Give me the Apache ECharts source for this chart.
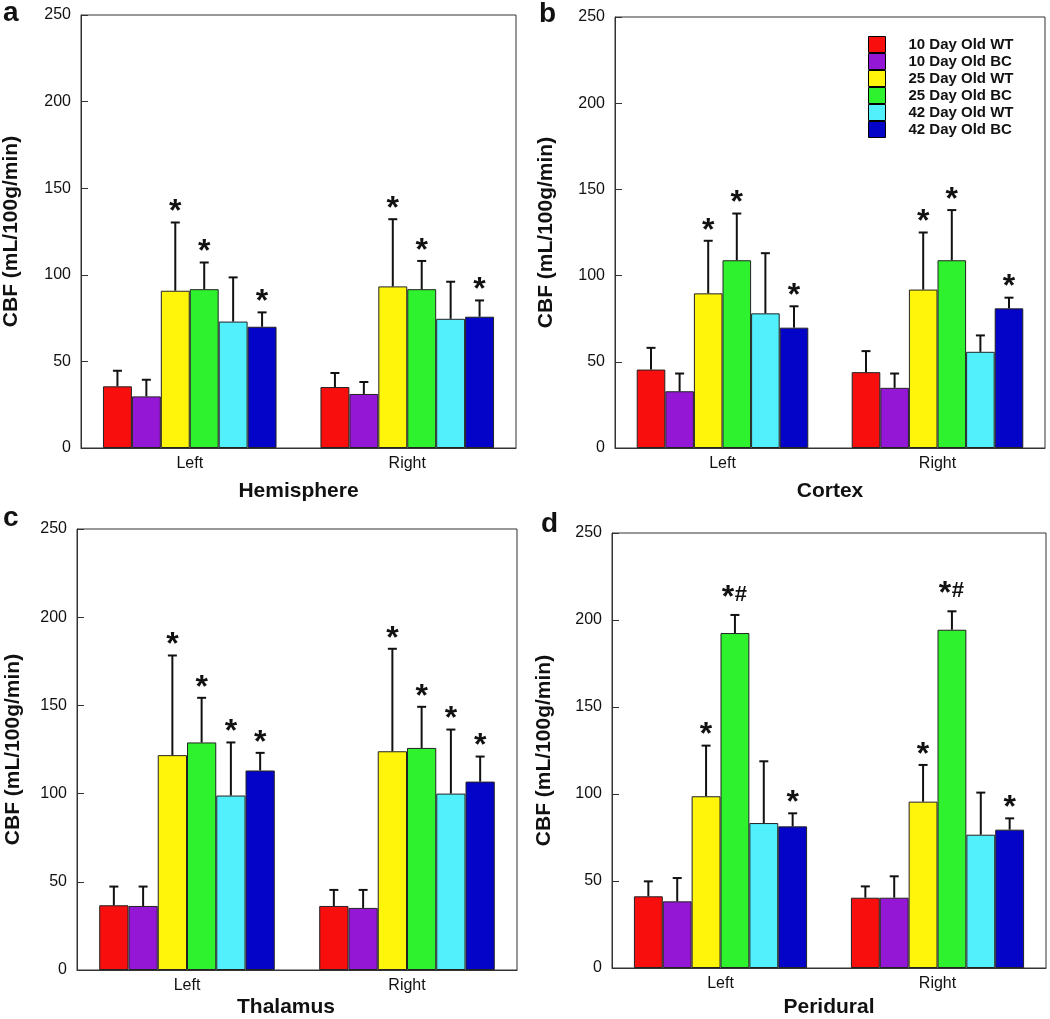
<!DOCTYPE html>
<html><head><meta charset="utf-8">
<script src="https://cdn.jsdelivr.net/npm/echarts@6/dist/echarts.min.js"></script>
<style>html,body{margin:0;padding:0;background:#fff}#c{width:1050px;height:1019px}</style>
</head><body><div id="c"></div>
<script>
// ---------- data ----------
const categories = ['Left', 'Right'];
const groupNames = ['10 Day Old WT', '10 Day Old BC', '25 Day Old WT', '25 Day Old BC', '42 Day Old WT', '42 Day Old BC'];
const panelTitles = ['Hemisphere', 'Cortex', 'Thalamus', 'Peridural'];
const panelLetters = ['a', 'b', 'c', 'd'];
const yAxisName = 'CBF (mL/100g/min)';
const yMin = 0, yMax = 250, yStep = 50;

// each row = one group, values for [Left, Right]
const hemisphereMean = [[35.6, 35.2], [29.8, 31.2], [90.8, 93.3], [91.7, 91.7], [73.0, 74.6], [70.0, 75.8]];
const hemisphereSD   = [[9.0, 8.1], [9.6, 6.9], [39.4, 38.8], [15.4, 16.3], [25.5, 21.4], [8.3, 9.4]];
const hemisphereSig  = [['', ''], ['', ''], ['*', '*'], ['*', '*'], ['', ''], ['*', '*']];

const cortexMean = [[45.5, 44.0], [32.9, 34.9], [89.7, 91.9], [108.9, 108.9], [78.1, 55.8], [69.8, 81.0]];
const cortexSD   = [[12.6, 12.2], [10.3, 8.3], [30.5, 33.1], [27.1, 29.1], [34.9, 9.5], [12.4, 6.2]];
const cortexSig  = [['', ''], ['', ''], ['*', '*'], ['*', '*'], ['', ''], ['*', '*']];

const thalamusMean = [[36.7, 36.3], [36.3, 35.2], [121.8, 124.0], [129.0, 125.9], [98.9, 100.0], [113.1, 106.8]];
const thalamusSD   = [[10.6, 9.1], [11.0, 10.2], [56.5, 58.1], [25.3, 23.3], [30.1, 36.3], [10.0, 14.2]];
const thalamusSig  = [['', ''], ['', ''], ['*', '*'], ['*', '*'], ['*', '*'], ['*', '*']];

const periduralMean = [[41.2, 40.4], [38.3, 40.4], [98.7, 95.6], [192.5, 194.4], [83.3, 76.6], [81.4, 79.5]];
const periduralSD   = [[8.6, 6.5], [13.4, 12.3], [29.1, 21.1], [10.4, 10.6], [35.5, 24.2], [7.5, 6.5]];
const periduralSig  = [['', ''], ['', ''], ['*', '*'], ['*#', '*#'], ['', ''], ['*', '*']];

const panelMeans = [hemisphereMean, cortexMean, thalamusMean, periduralMean];
const panelSDs = [hemisphereSD, cortexSD, thalamusSD, periduralSD];
const panelSigs = [hemisphereSig, cortexSig, thalamusSig, periduralSig];

// ---------- styles / layout ----------
const colors = ['#f90e0e', '#9417d6', '#fff50a', '#2ef22e', '#52effc', '#0404c8'];
const layout = [
  { left: 81, top: 15, width: 435, height: 433, yGap: 59, xGap: 33, xPad: [0, 0, 0, 0], letter: [3, 29] },
  { left: 615, top: 17, width: 430, height: 431, yGap: 58, xGap: 33, xPad: [0, 0, 0, 0], letter: [539, 30] },
  { left: 77, top: 529, width: 440, height: 441, yGap: 53, xGap: 27, xPad: [0, 22, 0, 0], letter: [3, 534] },
  { left: 612, top: 533, width: 434, height: 435, yGap: 57, xGap: 29, xPad: [0, 0, 0, 0], letter: [541, 540] }
];
const BAR_FRAC = 0.133;
const FONT = '"Liberation Sans", Arial, sans-serif';
const STAR_FONT = 'bold 32px "Liberation Sans", Arial, sans-serif';
const HASH_FONT = 'bold 22px "Liberation Sans", Arial, sans-serif';

const chart = echarts.init(document.getElementById('c'), null, { renderer: 'canvas' });

const grids = [], xAxes = [], yAxes = [], series = [], graphics = [];
layout.forEach((L, p) => {
  grids.push({ left: L.left, top: L.top, width: L.width, height: L.height, show: true,
    borderColor: '#333', borderWidth: 1, backgroundColor: 'transparent', containLabel: false });
  xAxes.push({
    type: 'category', gridIndex: p, data: categories,
    axisLine: { lineStyle: { color: '#333', width: 1 } },
    axisTick: { show: false },
    axisLabel: { fontSize: 16, color: '#111', margin: 8, fontFamily: FONT },
    name: panelTitles[p], nameLocation: 'middle', nameGap: L.xGap,
    nameTextStyle: { fontSize: 21, fontWeight: 'bold', color: '#111', fontFamily: FONT, padding: L.xPad }
  });
  yAxes.push({
    type: 'value', gridIndex: p, min: yMin, max: yMax, interval: yStep,
    axisLine: { show: true, lineStyle: { color: '#333', width: 1 } },
    axisTick: { show: true, inside: true, length: 7, lineStyle: { color: '#333' } },
    splitLine: { show: false },
    axisLabel: { fontSize: 16, color: '#111', margin: 10, fontFamily: FONT },
    name: yAxisName, nameLocation: 'middle', nameGap: L.yGap,
    nameTextStyle: { fontSize: 21, fontWeight: 'bold', color: '#111', fontFamily: FONT }
  });
  const means = panelMeans[p];
  groupNames.forEach((name, g) => {
    series.push({
      type: 'bar', name: name, xAxisIndex: p, yAxisIndex: p,
      data: means[g], barWidth: (BAR_FRAC * 100) + '%', barGap: '0%',
      itemStyle: { color: colors[g], borderColor: '#222', borderWidth: 1 },
      emphasis: { disabled: true }, z: 2
    });
  });
  const sds = panelSDs[p], sigs = panelSigs[p];
  const errData = [];
  const errSig = [];
  for (let g = 0; g < groupNames.length; g++) {
    for (let c = 0; c < categories.length; c++) {
      errData.push([c, g, means[g][c], sds[g][c]]);
      errSig.push(sigs[g][c]);
    }
  }
  series.push({
    type: 'custom', xAxisIndex: p, yAxisIndex: p, z: 5, silent: true,
    encode: { x: 0, y: 2 },
    data: errData,
    renderItem: function (params, api) {
      const c = api.value(0), g = api.value(1), m = api.value(2), sd = api.value(3);
      const bandW = api.size([1, 0])[0];
      const bw = bandW * BAR_FRAC;
      const x = api.coord([c, 0])[0] + (g - 2.5) * bw;
      const yM = api.coord([c, m])[1];
      const yT = api.coord([c, m + sd])[1];
      const children = [
        { type: 'line', shape: { x1: x, y1: yM, x2: x, y2: yT }, style: { stroke: '#111', lineWidth: 2 } },
        { type: 'line', shape: { x1: x - 4.5, y1: yT, x2: x + 4.5, y2: yT }, style: { stroke: '#111', lineWidth: 2 } }
      ];
      const sig = errSig[params.dataIndex];
      if (sig === '*') {
        children.push({ type: 'text', style: { text: '*', x: x, y: yT - 10, align: 'center', verticalAlign: 'middle', font: STAR_FONT, fill: '#111' } });
      } else if (sig === '*#') {
        children.push({ type: 'text', style: { text: '*', x: x - 7, y: yT - 17, align: 'center', verticalAlign: 'middle', font: STAR_FONT, fill: '#111' } });
        children.push({ type: 'text', style: { text: '#', x: x + 6, y: yT - 20, align: 'center', verticalAlign: 'middle', font: HASH_FONT, fill: '#111' } });
      }
      return { type: 'group', children: children };
    }
  });
  graphics.push({
    type: 'text', left: L.letter[0], top: L.letter[1] - 30,
    style: { text: panelLetters[p], font: 'bold 28px ' + FONT, fill: '#111' }
  });
});

chart.setOption({
  animation: false,
  backgroundColor: '#fff',
  textStyle: { fontFamily: FONT },
  grid: grids, xAxis: xAxes, yAxis: yAxes, series: series,
  legend: {
    data: groupNames, orient: 'vertical', left: 868, top: 36, padding: 0,
    itemWidth: 17, itemHeight: 16, itemGap: 0, icon: 'rect',
    itemStyle: { borderColor: '#000', borderWidth: 1 },
    textStyle: { fontSize: 15, fontWeight: 'bold', color: '#111', fontFamily: FONT, padding: [0, 0, 0, 18], lineHeight: 16 },
    selectedMode: false
  },
  graphic: graphics
});
</script>
</body></html>
